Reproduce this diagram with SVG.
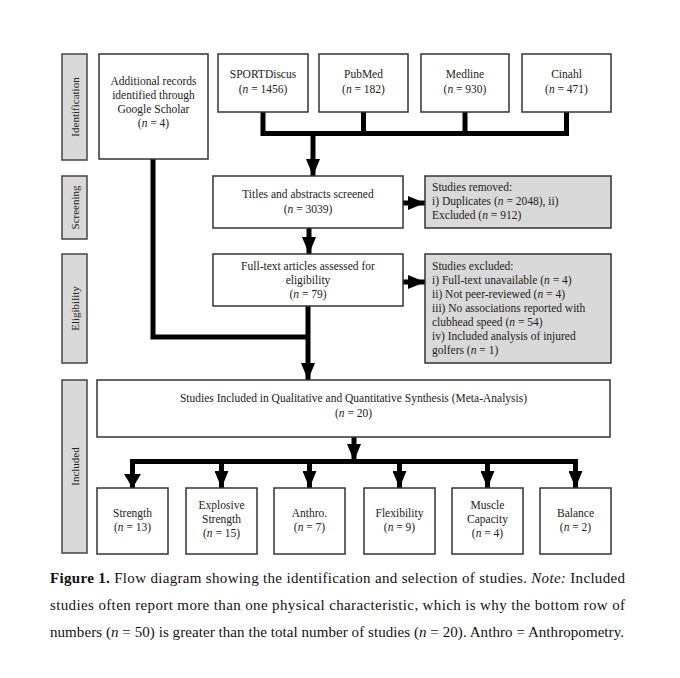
<svg xmlns="http://www.w3.org/2000/svg" width="680" height="678" viewBox="0 0 680 678">
<defs>
<style>
.box{fill:#fff;stroke:#333;stroke-width:1.5}
.gbox{fill:#d9d9d9;stroke:#333;stroke-width:1.5}
.side{fill:#d9d9d9;stroke:#444;stroke-width:1.5}
.t{font-family:"Liberation Serif","Times New Roman",serif;font-size:11.5px;fill:#222}
.c{text-anchor:middle}
.st{font-family:"Liberation Serif","Times New Roman",serif;font-size:11px;fill:#222;text-anchor:middle}
.cap{font-family:"Liberation Serif","Times New Roman",serif;font-size:15px;fill:#111}
.ln{fill:none;stroke:#000;stroke-width:5}
</style>
<marker id="ah" viewBox="0 0 17 14" refX="17" refY="7" markerWidth="17" markerHeight="14" markerUnits="userSpaceOnUse" orient="auto">
<path d="M0,0 L17,7 L0,14 Z" fill="#000"/>
</marker>
</defs>
<rect width="680" height="678" fill="#fff"/>

<g id="side-identification"><rect class="side" x="62" y="54" width="25" height="106"/><text class="st" transform="translate(78.5,107) rotate(-90)">Identification</text></g>
<g id="side-screening"><rect class="side" x="62" y="176" width="25" height="63"/><text class="st" transform="translate(78.5,207.5) rotate(-90)">Screening</text></g>
<g id="side-eligibility"><rect class="side" x="62" y="254" width="25" height="109"/><text class="st" transform="translate(78.5,308.5) rotate(-90)">Eligibility</text></g>
<g id="side-included"><rect class="side" x="62" y="380" width="25" height="173"/><text class="st" transform="translate(78.5,466.5) rotate(-90)">Included</text></g>

<g id="connectors">
<path class="ln" d="M263,112 V133.5 M363.5,112 V133.5 M465,112 V133.5 M566.5,112 V133.5 M260.5,133.5 H569"/>
<path class="ln" d="M313,133.5 V176" marker-end="url(#ah)"/>
<path class="ln" d="M309,228 V254" marker-end="url(#ah)"/>
<path class="ln" d="M403,203 H425" marker-end="url(#ah)"/>
<path class="ln" d="M403,282 H425" marker-end="url(#ah)"/>
<path class="ln" d="M153,159 V337 H308"/>
<path class="ln" d="M308,306 V380" marker-end="url(#ah)"/>
<path class="ln" d="M354,437 V461" marker-end="url(#ah)"/>
<path class="ln" d="M132.5,488 V461.5 H575.5 V488" marker-end="url(#ah)"/>
<path class="ln" d="M221.5,461.5 V488" marker-end="url(#ah)"/>
<path class="ln" d="M309.5,461.5 V488" marker-end="url(#ah)"/>
<path class="ln" d="M399.5,461.5 V488" marker-end="url(#ah)"/>
<path class="ln" d="M487.5,461.5 V488" marker-end="url(#ah)"/>
<path d="M124,474 L132.5,488 L141,474 Z" fill="#000"/>
</g>

<g id="additional-records"><rect class="box" x="99" y="54" width="109" height="105"/>
<text class="t c" x="153.5" y="85">Additional records</text>
<text class="t c" x="153.5" y="99">identified through</text>
<text class="t c" x="153.5" y="113">Google Scholar</text>
<text class="t c" x="153.5" y="127">(<tspan font-style="italic">n</tspan> = 4)</text></g>

<g id="sportdiscus"><rect class="box" x="218" y="54" width="90" height="58"/>
<text class="t c" x="263" y="78">SPORTDiscus</text>
<text class="t c" x="263" y="93">(<tspan font-style="italic">n</tspan> = 1456)</text></g>
<g id="pubmed"><rect class="box" x="319" y="54" width="89" height="58"/>
<text class="t c" x="363.5" y="78">PubMed</text>
<text class="t c" x="363.5" y="93">(<tspan font-style="italic">n</tspan> = 182)</text></g>
<g id="medline"><rect class="box" x="421" y="54" width="88" height="58"/>
<text class="t c" x="465" y="78">Medline</text>
<text class="t c" x="465" y="93">(<tspan font-style="italic">n</tspan> = 930)</text></g>
<g id="cinahl"><rect class="box" x="522" y="54" width="89" height="58"/>
<text class="t c" x="566.5" y="78">Cinahl</text>
<text class="t c" x="566.5" y="93">(<tspan font-style="italic">n</tspan> = 471)</text></g>

<g id="titles-screened"><rect class="box" x="213" y="176" width="190" height="52"/>
<text class="t c" x="308" y="198">Titles and abstracts screened</text>
<text class="t c" x="308" y="213">(<tspan font-style="italic">n</tspan> = 3039)</text></g>

<g id="studies-removed"><rect class="gbox" x="425" y="176" width="186" height="52"/>
<text class="t" x="432" y="191">Studies removed:</text>
<text class="t" x="432" y="205">i) Duplicates (<tspan font-style="italic">n</tspan> = 2048), ii)</text>
<text class="t" x="432" y="219">Excluded (<tspan font-style="italic">n</tspan> = 912)</text></g>

<g id="full-text"><rect class="box" x="213" y="254" width="190" height="52"/>
<text class="t c" x="308" y="270">Full-text articles assessed for</text>
<text class="t c" x="308" y="284">eligibility</text>
<text class="t c" x="308" y="298">(<tspan font-style="italic">n</tspan> = 79)</text></g>

<g id="studies-excluded"><rect class="gbox" x="425" y="254" width="186" height="109"/>
<text class="t" x="432" y="270">Studies excluded:</text>
<text class="t" x="432" y="284">i) Full-text unavailable (<tspan font-style="italic">n</tspan> = 4)</text>
<text class="t" x="432" y="298">ii) Not peer-reviewed (<tspan font-style="italic">n</tspan> = 4)</text>
<text class="t" x="432" y="312">iii) No associations reported with</text>
<text class="t" x="432" y="326">clubhead speed (<tspan font-style="italic">n</tspan> = 54)</text>
<text class="t" x="432" y="340">iv) Included analysis of injured</text>
<text class="t" x="432" y="354">golfers (<tspan font-style="italic">n</tspan> = 1)</text></g>

<g id="included-studies"><rect class="box" x="97" y="380" width="513" height="57"/>
<text class="t c" x="353.5" y="402">Studies Included in Qualitative and Quantitative Synthesis (Meta-Analysis)</text>
<text class="t c" x="353.5" y="417">(<tspan font-style="italic">n</tspan> = 20)</text></g>

<g id="strength"><rect class="box" x="97" y="488" width="71" height="66"/>
<text class="t c" x="132.5" y="517">Strength</text>
<text class="t c" x="132.5" y="531">(<tspan font-style="italic">n</tspan> = 13)</text></g>
<g id="explosive-strength"><rect class="box" x="186" y="488" width="71" height="66"/>
<text class="t c" x="221.5" y="509">Explosive</text>
<text class="t c" x="221.5" y="523">Strength</text>
<text class="t c" x="221.5" y="537">(<tspan font-style="italic">n</tspan> = 15)</text></g>
<g id="anthro"><rect class="box" x="274" y="488" width="71" height="66"/>
<text class="t c" x="309.5" y="517">Anthro.</text>
<text class="t c" x="309.5" y="531">(<tspan font-style="italic">n</tspan> = 7)</text></g>
<g id="flexibility"><rect class="box" x="364" y="488" width="71" height="66"/>
<text class="t c" x="399.5" y="517">Flexibility</text>
<text class="t c" x="399.5" y="531">(<tspan font-style="italic">n</tspan> = 9)</text></g>
<g id="muscle-capacity"><rect class="box" x="452" y="488" width="71" height="66"/>
<text class="t c" x="487.5" y="509">Muscle</text>
<text class="t c" x="487.5" y="523">Capacity</text>
<text class="t c" x="487.5" y="537">(<tspan font-style="italic">n</tspan> = 4)</text></g>
<g id="balance"><rect class="box" x="540" y="488" width="71" height="66"/>
<text class="t c" x="575.5" y="517">Balance</text>
<text class="t c" x="575.5" y="531">(<tspan font-style="italic">n</tspan> = 2)</text></g>

<g id="caption">
<text class="cap" x="50" y="583" textLength="575" lengthAdjust="spacing"><tspan font-weight="bold">Figure 1.</tspan> Flow diagram showing the identification and selection of studies. <tspan font-style="italic">Note:</tspan> Included</text>
<text class="cap" x="50" y="610" textLength="575" lengthAdjust="spacing">studies often report more than one physical characteristic, which is why the bottom row of</text>
<text class="cap" x="50" y="637" textLength="574" lengthAdjust="spacing">numbers (<tspan font-style="italic">n</tspan> = 50) is greater than the total number of studies (<tspan font-style="italic">n</tspan> = 20).  Anthro = Anthropometry.</text>
</g>
</svg>
